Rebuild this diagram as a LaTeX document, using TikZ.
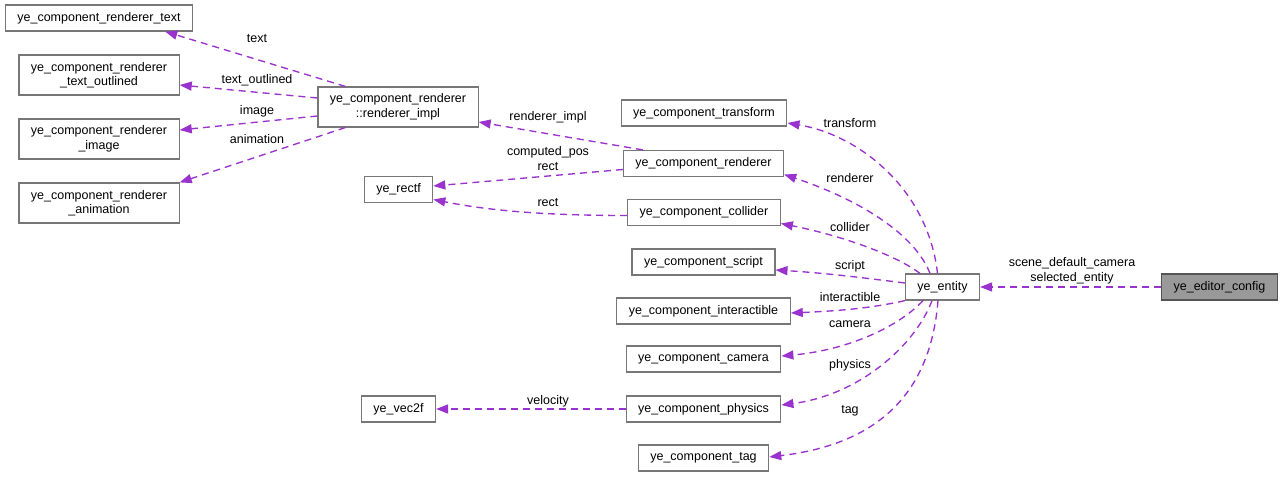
\documentclass[tikz,border=0pt]{standalone}
\usepackage{fontspec}
\setmainfont{Liberation Sans}
\definecolor{edgePurple}{HTML}{9A32CD}
\definecolor{boxBorder}{HTML}{777777}
\definecolor{boxFocus}{HTML}{999999}
\definecolor{focusBorder}{HTML}{555555}
\usetikzlibrary{calc, positioning, arrows.meta}

\begin{document}
\begin{tikzpicture}[x=1pt, y=-1pt,
    every node/.style={font=\fontsize{12.5pt}{14.5pt}\selectfont},
    cls/.style={draw=boxBorder, line width=1.2pt, inner xsep=12pt, inner ysep=0pt,
                minimum height=26pt, align=center},
    cls2/.style={cls, minimum width=160pt, minimum height=40pt},
    lbl/.style={inner sep=0pt, align=center},
    memb/.style={draw=edgePurple, line width=1.35pt, dash pattern=on 7pt off 5pt,
                 -{Triangle[length=12pt,width=9pt]}}]
  \useasboundingbox (0,0) rectangle (1283,477);

  \node[cls] (rText) at (99,18) {ye\_component\_renderer\_text};
  \node[cls2] (rOutlined) at (99,75) {ye\_component\_renderer\\\_text\_outlined};
  \node[cls2] (rImage) at (99,139) {ye\_component\_renderer\\\_image};
  \node[cls2] (rAnim) at (99,203) {ye\_component\_renderer\\\_animation};
  \node[cls2] (rImpl) at (398,107) {ye\_component\_renderer\\::renderer\_impl};
  \node[cls] (rectf) at (398.5,189.5) {ye\_rectf};
  \node[cls] (vecTwo) at (398.5,409) {ye\_vec2f};

  \node[cls] (cTransform) at (704,113) {ye\_component\_transform};
  \node[cls] (cRenderer) at (703.5,163.5) {ye\_component\_renderer};
  \node[cls] (cCollider) at (704,212.5) {ye\_component\_collider};
  \node[cls] (cScript) at (703.5,262) {ye\_component\_script};
  \node[cls] (cInteract) at (703.5,311) {ye\_component\_interactible};
  \node[cls] (cCamera) at (703.5,359) {ye\_component\_camera};
  \node[cls] (cPhysics) at (703.5,409) {ye\_component\_physics};
  \node[cls] (cTag) at (703.5,458) {ye\_component\_tag};

  \node[cls] (entity) at (942.5,287) {ye\_entity};
  \node[cls, fill=boxFocus, draw=focusBorder] (editorCfg) at (1219.5,287) {ye\_editor\_config};

  \draw[memb] ([xshift=28pt]rImpl.north west) -- ([xshift=-28pt]rText.south east);
  \draw[memb] ([yshift=9pt]rImpl.west) -- ([yshift=-10pt]rOutlined.east);
  \draw[memb] ([yshift=-9pt]rImpl.west) -- ([yshift=9pt]rImage.east);
  \draw[memb] ([xshift=28pt]rImpl.south west) -- (rAnim.north east);
  \draw[memb] ([xshift=20pt]cRenderer.north west) -- ([yshift=-15pt]rImpl.east);
  \draw[memb] ([yshift=-6pt]cRenderer.west) -- ([yshift=3.5pt]rectf.east);
  \draw[memb] ([yshift=-3pt]cCollider.west) .. controls +(-90,0) and +(50,10) .. ([yshift=-10pt]rectf.east);
  \draw[memb] (cPhysics) -- (vecTwo);

  \draw[memb] ([xshift=-5pt]entity.north) .. controls +(-9.5,-84) and +(72,12) .. ([yshift=-10pt]cTransform.east);
  \draw[memb] ([xshift=-12.5pt]entity.north) .. controls +(-15,-39) and +(76,25.5) .. ([yshift=-11pt]cRenderer.east);
  \draw[memb] ([xshift=-22.5pt]entity.north) .. controls +(-25,-19) and +(58,11.5) .. ([yshift=-11pt]cCollider.east);
  \draw[memb] ([yshift=4pt]entity.west) .. controls +(-40,-5) and +(50,3) .. ([yshift=-8pt]cScript.east);
  \draw[memb] (entity.south west) .. controls +(-35,8) and +(45,-2) .. ([yshift=-2pt]cInteract.east);
  \draw[memb] ([xshift=-19.5pt]entity.south) .. controls +(-23,25) and +(68,-6) .. ([yshift=3pt]cCamera.east);
  \draw[memb] ([xshift=-10.5pt]entity.south) .. controls +(-17,45) and +(78,-10) .. ([yshift=4pt]cPhysics.east);
  \draw[memb] ([xshift=-4.5pt]entity.south) .. controls +(-8,100) and +(101,-12) .. ([yshift=1pt]cTag.east);
  \draw[memb] (editorCfg) -- (entity);

  \node[lbl] (lText) at (257,39) {text};
  \node[lbl] (lOutlined) at (257,80) {text\_outlined};
  \node[lbl] (lImage) at (257,111) {image};
  \node[lbl] (lAnim) at (257,139) {animation};
  \node[lbl] (lImpl) at (548,117) {renderer\_impl};
  \node[lbl] (lCompPos) at (548,158.5) {computed\_pos\\rect};
  \node[lbl] (lRect) at (548,203) {rect};
  \node[lbl] (lVelocity) at (548,401) {velocity};
  \node[lbl] (lTransform) at (850,123) {transform};
  \node[lbl] (lRenderer) at (850,178) {renderer};
  \node[lbl] (lCollider) at (850,227) {collider};
  \node[lbl] (lScript) at (850,266) {script};
  \node[lbl] (lInteract) at (850,297) {interactible};
  \node[lbl] (lCamera) at (850,324) {camera};
  \node[lbl] (lPhysics) at (850,365) {physics};
  \node[lbl] (lTag) at (850,411) {tag};
  \node[lbl] (lScene) at (1072,271) {scene\_default\_camera\\selected\_entity};
\end{tikzpicture}
\end{document}
